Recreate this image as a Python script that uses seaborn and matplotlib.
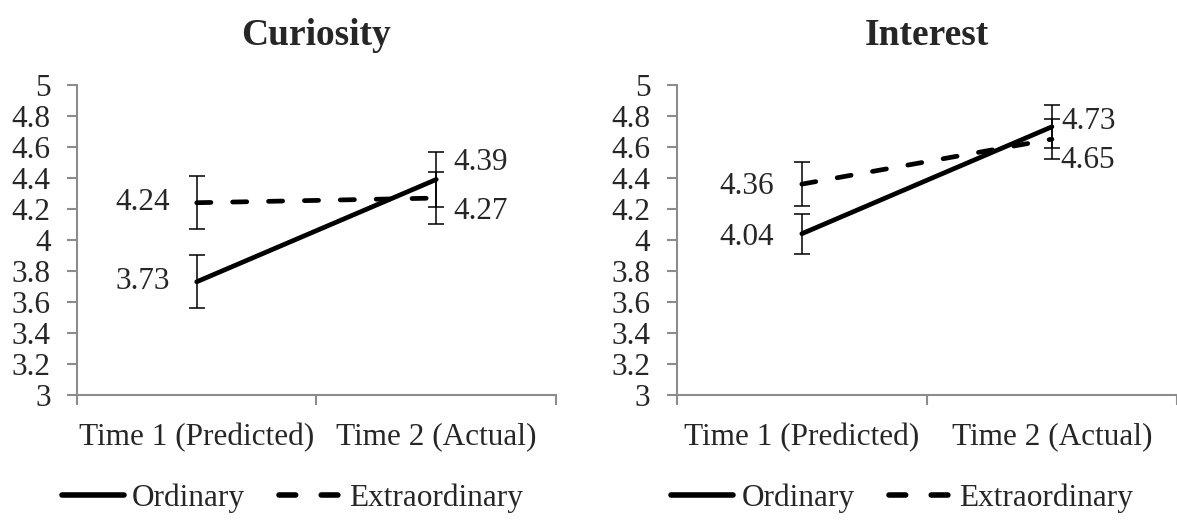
import matplotlib
matplotlib.use("Agg")
import matplotlib.pyplot as plt
import seaborn as sns
import pandas as pd

# data
times = ["Time 1 (Predicted)", "Time 2 (Actual)"]
conditions = ["Ordinary", "Extraordinary"]
curiosity_ordinary = [3.73, 4.39]
curiosity_extra = [4.24, 4.27]
curiosity_err_ordinary = [0.17, 0.18]
curiosity_err_extra = [0.17, 0.17]
interest_ordinary = [4.04, 4.73]
interest_extra = [4.36, 4.65]
interest_err_ordinary = [0.13, 0.14]
interest_err_extra = [0.14, 0.13]
y_ticks = [3, 3.2, 3.4, 3.6, 3.8, 4, 4.2, 4.4, 4.6, 4.8, 5]
y_labels = ["3", "3.2", "3.4", "3.6", "3.8", "4", "4.2", "4.4", "4.6", "4.8", "5"]

sns.set_style("white")
plt.rcParams["font.family"] = ["Liberation Serif", "DejaVu Serif"]
plt.rcParams["lines.dash_capstyle"] = "round"

GREY = "#8c8c8c"
FS = 22.5


def build_frame(ordinary, extra, err_o, err_e):
    rows = []
    for i, t in enumerate(times):
        rows.append({"pos": i, "time": t, "cond": "Ordinary", "value": ordinary[i], "err": err_o[i]})
        rows.append({"pos": i, "time": t, "cond": "Extraordinary", "value": extra[i], "err": err_e[i]})
    return pd.DataFrame(rows)


def draw_panel(ax, df, title, label_offsets):
    sns.lineplot(data=df, x="pos", y="value", style="cond", style_order=conditions,
                 dashes={"Ordinary": "", "Extraordinary": (3, 4.6)},
                 color="black", lw=3.4, ax=ax, legend=True)
    ax.errorbar(df["pos"], df["value"], yerr=df["err"], fmt="none", ecolor="black",
                elinewidth=1.1, capsize=5.5, capthick=1.1, zorder=3)
    for (_, r), off in zip(df.iterrows(), label_offsets):
        ha = "right" if r["pos"] == 0 else "left"
        ax.annotate(f"{r['value']:.2f}", (r["pos"], r["value"]), xytext=off,
                    textcoords="offset points", ha=ha, va="center", fontsize=FS)
    ax.set_xlim(-0.5, 1.5)
    ax.set_ylim(3, 5)
    ax.set_yticks(y_ticks)
    ax.set_yticklabels(y_labels, fontsize=FS)
    ax.set_xticks([0, 1])
    ax.set_xticklabels(times, fontsize=FS)
    ax.set_xticks([-0.5, 0.5, 1.5], minor=True)
    ax.tick_params(axis="x", which="major", length=0, pad=20, bottom=True)
    ax.tick_params(axis="x", which="minor", length=7, color=GREY, width=1.5, bottom=True)
    ax.tick_params(axis="y", length=7, color=GREY, width=1.5, pad=12, left=True)
    ax.set_xlabel("")
    ax.set_ylabel("")
    for s in ["top", "right"]:
        ax.spines[s].set_visible(False)
    for s in ["left", "bottom"]:
        ax.spines[s].set_color(GREY)
        ax.spines[s].set_linewidth(1.5)
    ax.set_title(title, fontsize=27, fontweight="bold", pad=29)
    handles, labels = ax.get_legend_handles_labels()
    for h in handles:
        h.set_linewidth(4)
    ax.legend(handles, labels, loc="center", bbox_to_anchor=(0.45, -0.332),
              ncol=2, frameon=False, fontsize=FS, handlelength=2.0,
              handletextpad=0.25, columnspacing=1.1, borderpad=0)


fig = plt.figure(figsize=(11.77, 5.21), dpi=100)
ax1 = fig.add_axes([0.0654, 0.242, 0.407, 0.595])
ax2 = fig.add_axes([0.575, 0.242, 0.425, 0.595])

cur = build_frame(curiosity_ordinary, curiosity_extra, curiosity_err_ordinary, curiosity_err_extra)
inte = build_frame(interest_ordinary, interest_extra, interest_err_ordinary, interest_err_extra)

# offsets in order: T1 ord, T1 ext, T2 ord, T2 ext
draw_panel(ax1, cur, "Curiosity", [(-19, 0), (-19, 0), (12, 12), (12, -10)])
draw_panel(ax2, inte, "Interest", [(-20, -3), (-20, -2), (7, 4), (6, -15)])

fig.savefig("out.png", dpi=100)
